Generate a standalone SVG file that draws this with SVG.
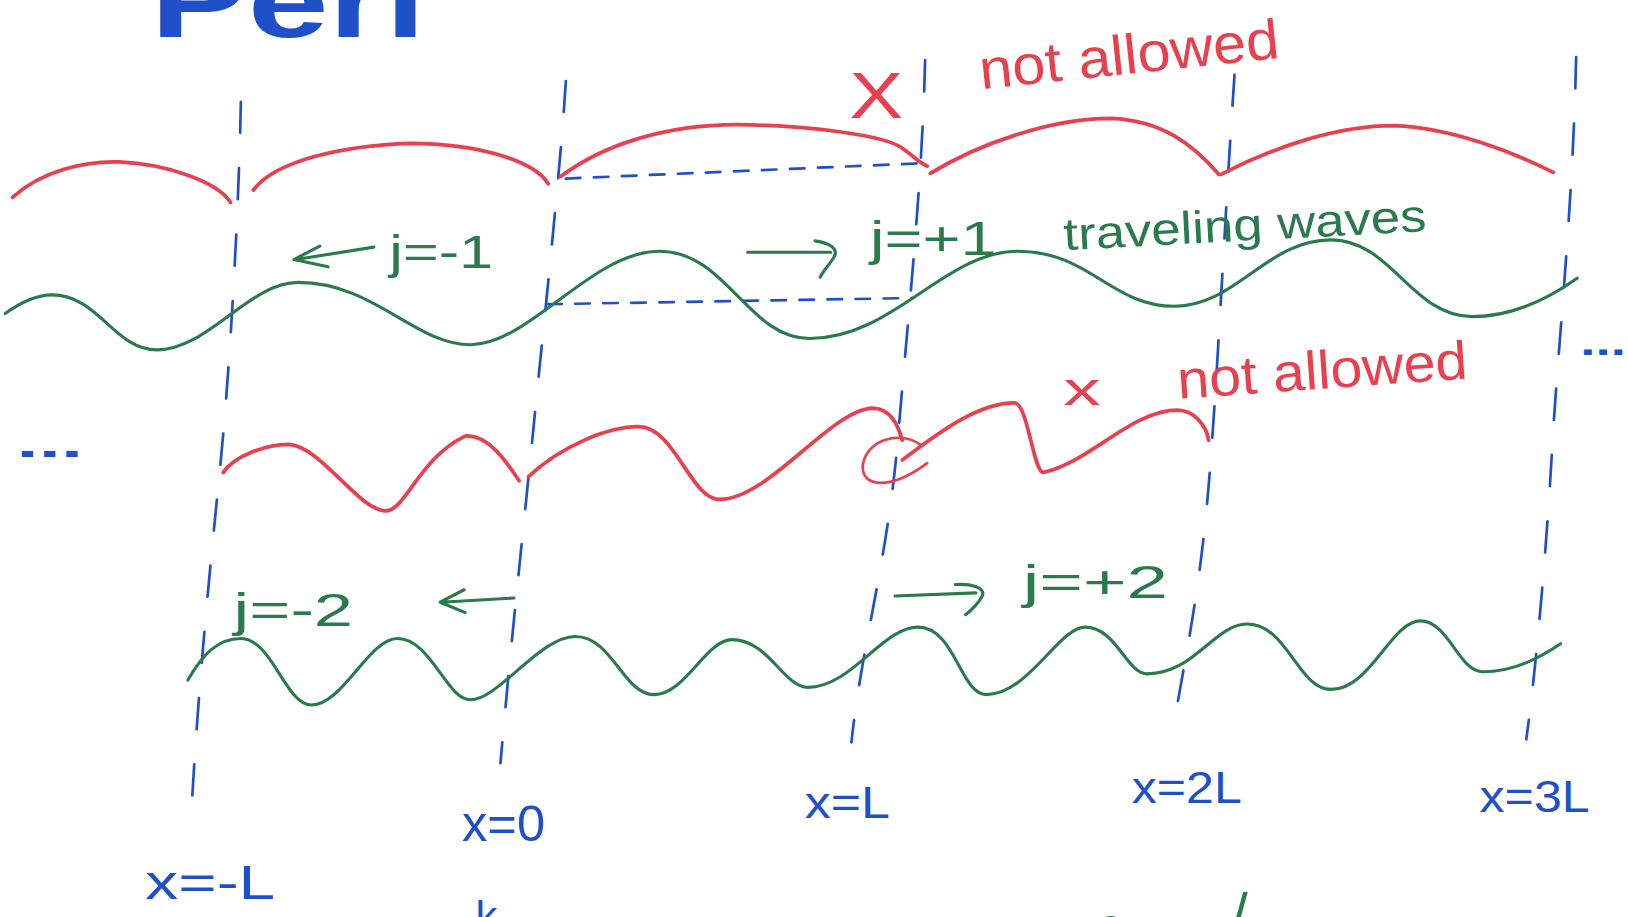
<svg xmlns="http://www.w3.org/2000/svg" width="1628" height="917" viewBox="0 0 1628 917">
<style>
.red{fill:none;stroke:#e8404f;stroke-width:3.6;stroke-linecap:round;stroke-linejoin:round}
.grn{fill:none;stroke:#2b7a4b;stroke-width:3;stroke-linecap:round;stroke-linejoin:round}
.bd{fill:none;stroke:#2050c8;stroke-width:2.6;stroke-linecap:round;stroke-dasharray:30 34}
.bh{fill:none;stroke:#2050c8;stroke-width:2.6;stroke-linecap:round;stroke-dasharray:14 13}
text{font-family:"Liberation Sans","DejaVu Sans",sans-serif}
.tr{fill:#e8404f}
.tg{fill:#2b7a4b}
.tb{fill:#2050c8}
</style>
<rect width="1628" height="917" fill="#ffffff"/>
<g transform="scale(1.0383)">
  <g id="title">
    <text class="tb" x="145" y="36" font-size="100" font-weight="bold" textLength="265" lengthAdjust="spacingAndGlyphs">Peri</text>
  </g>

  <g id="boundaries">
    <path class="bd" d="M232,98 C230,200 222,350 212,450 S192,650 185,770"/>
    <path class="bd" d="M545,78 C540,160 525,300 513,420 S492,620 482,735"/>
    <path class="bd" d="M891,58 C888,180 875,300 865,420 S830,620 820,715"/>
    <path class="bd" d="M1189,72 C1180,200 1172,380 1163,480 S1140,640 1132,690"/>
    <path class="bd" d="M1518,55 C1515,200 1500,340 1495,430 S1480,640 1470,712"/>
  </g>

  <g id="connectors">
    <path class="bh" d="M545,172 L893,157"/>
    <path class="bh" d="M527,293 L880,287"/>
  </g>

  <g id="row1-red">
    <path class="red" d="M12,190 C40,165 80,155 115,156 C160,158 210,175 222,195"/>
    <path class="red" d="M244,183 C265,155 330,140 395,138 C460,138 515,155 528,177"/>
    <path class="red" d="M540,170 C580,140 640,120 710,120 C780,121 850,130 868,142 C880,150 885,157 893,160"/>
    <path class="red" d="M896,167 C940,140 1010,114 1070,114 C1120,116 1150,140 1174,168"/>
    <path class="red" d="M1176,168 C1230,140 1290,121 1342,121 C1400,123 1460,148 1496,166"/>
    <text class="tr" x="818" y="114" font-size="62" textLength="52" lengthAdjust="spacingAndGlyphs">X</text>
    <text class="tr" x="945" y="86" font-size="54" textLength="290" lengthAdjust="spacingAndGlyphs" transform="rotate(-6 945 86)">not allowed</text>
  </g>

  <g id="row2-green">
    <path class="grn" d="M5,302 Q30,284 50,284 C95,284 110,337 151,337 C200,337 240,272 287,272 C360,272 400,332 453,332 C510,332 570,242 635,242 C700,242 720,326 780,326 C860,326 910,242 980,242 C1050,242 1070,295 1131,295 C1190,295 1220,231 1282,231 C1340,231 1360,305 1418,305 C1460,305 1495,285 1519,268"/>
    <path class="grn" d="M360,238 L285,250 M308,237 L283,250 L316,257"/>
    <text class="tg" x="375" y="258" font-size="44" textLength="100" lengthAdjust="spacingAndGlyphs">j=-1</text>
    <path class="grn" d="M720,243 L800,243 M785,232 C800,234 808,240 803,248 C798,256 792,262 790,267"/>
    <text class="tg" x="838" y="246" font-size="46" textLength="122" lengthAdjust="spacingAndGlyphs">j=+1</text>
    <text class="tg" x="1025" y="241" font-size="44" textLength="350" lengthAdjust="spacingAndGlyphs" transform="rotate(-3 1025 241)">traveling waves</text>
  </g>

  <g id="row3-red">
    <path class="red" d="M215,455 C225,440 255,428 278,428 C310,430 345,492 372,492 C390,492 405,440 448,420 C470,418 488,445 500,463"/>
    <path class="red" d="M509,459 C540,430 585,411 615,411 C650,411 665,481 693,481 C740,481 800,395 840,393 C858,393 865,410 869,424"/>
    <path class="red" d="M869,443 C900,420 940,388 977,388 C990,388 995,455 1005,455 C1050,445 1090,395 1134,395 C1150,395 1162,410 1164,424"/>
    <path class="red" style="stroke-width:2.6" d="M886,428 C866,414 834,424 831,448 C829,470 858,472 893,446"/>
    <text class="tr" x="1024" y="390" font-size="44" textLength="36" lengthAdjust="spacingAndGlyphs">x</text>
    <text class="tr" x="1135" y="384" font-size="52" textLength="280" lengthAdjust="spacingAndGlyphs" transform="rotate(-4 1135 384)">not allowed</text>
  </g>

  <g id="row4-green">
    <path class="grn" d="M181,655 C195,630 210,615 232,615 C262,615 275,679 300,679 C330,679 355,615 383,615 C415,615 430,674 453,674 C480,674 520,613 554,613 C590,613 600,669 630,669 C660,669 680,616 705,616 C740,616 755,662 778,662 C820,662 850,604 884,604 C920,604 925,669 950,669 C990,669 1020,604 1045,604 C1075,604 1085,649 1105,649 C1150,649 1170,601 1201,601 C1240,601 1250,664 1282,664 C1320,664 1340,598 1368,598 C1395,598 1405,647 1428,647 C1460,647 1485,632 1503,620"/>
    <text class="tg" x="225" y="603" font-size="44" textLength="115" lengthAdjust="spacingAndGlyphs">j=-2</text>
    <path class="grn" d="M495,576 L425,580 M447,568 L424,580 L448,590"/>
    <path class="grn" d="M862,574 L940,571 M920,563 C935,562 950,566 946,574 C942,582 935,588 930,592"/>
    <text class="tg" x="985" y="576" font-size="44" textLength="140" lengthAdjust="spacingAndGlyphs">j=+2</text>
  </g>

  <g id="ellipsis">
    <text class="tb" x="16" y="440" font-size="40" font-weight="bold" textLength="64" lengthAdjust="spacingAndGlyphs">...</text>
    <text class="tb" x="1522" y="342" font-size="36" font-weight="bold" textLength="44" lengthAdjust="spacingAndGlyphs">...</text>
  </g>

  <g id="labels">
    <text class="tb" x="140" y="866" font-size="46" textLength="125" lengthAdjust="spacingAndGlyphs">x=-L</text>
    <text class="tb" x="445" y="810" font-size="48" textLength="80" lengthAdjust="spacingAndGlyphs">x=0</text>
    <text class="tb" x="775" y="788" font-size="42" textLength="82" lengthAdjust="spacingAndGlyphs">x=L</text>
    <text class="tb" x="1090" y="773" font-size="42" textLength="106" lengthAdjust="spacingAndGlyphs">x=2L</text>
    <text class="tb" x="1425" y="782" font-size="42" textLength="106" lengthAdjust="spacingAndGlyphs">x=3L</text>
  </g>

  <g id="fragments">
    <text class="tb" x="458" y="898" font-size="42">k</text>
    <text class="tg" x="1058" y="905" font-size="42">a</text>
    <text class="tg" x="1186" y="900" font-size="56">/</text>
  </g>
</g>
</svg>
